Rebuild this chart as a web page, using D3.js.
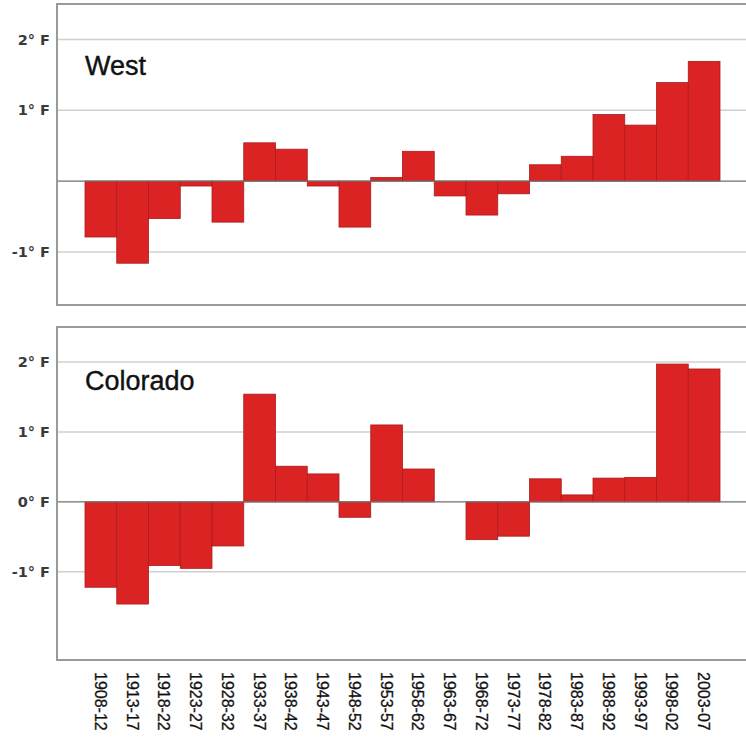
<!DOCTYPE html>
<html>
<head>
<meta charset="utf-8">
<script src="https://cdn.jsdelivr.net/npm/d3@7"></script>
<style>
  html, body { margin: 0; padding: 0; background: #fff; }
  svg { display: block; }
</style>
</head>
<body>
<svg id="chart" width="746" height="738"></svg>
<script>
const periods = ["1908-12","1913-17","1918-22","1923-27","1928-32","1933-37","1938-42","1943-47","1948-52","1953-57","1958-62","1963-67","1968-72","1973-77","1978-82","1983-87","1988-92","1993-97","1998-02","2003-07"];
const westValues = [-0.79,-1.16,-0.53,-0.07,-0.58,0.54,0.45,-0.07,-0.65,0.05,0.42,-0.21,-0.48,-0.18,0.23,0.35,0.94,0.79,1.39,1.69];
const coloradoValues = [-1.22,-1.46,-0.91,-0.95,-0.63,1.54,0.51,0.40,-0.22,1.10,0.47,0.0,-0.54,-0.49,0.33,0.10,0.34,0.35,1.97,1.90];
const westTicks = [-1, 1, 2];
const westTickLabels = ["-1° F", "1° F", "2° F"];
const coloradoTicks = [-1, 0, 1, 2];
const coloradoTickLabels = ["-1° F", "0° F", "1° F", "2° F"];

const svg = d3.select("#chart");
const frameLeft = 57, frameRight = 760;
const x = d3.scaleBand().domain(periods).range([85, 720]).padding(0);

const panels = [
  { name: "West", values: westValues, ticks: westTicks, labels: westTickLabels, domain: [-1.75, 2.5], range: [305, 4] },
  { name: "Colorado", values: coloradoValues, ticks: coloradoTicks, labels: coloradoTickLabels, domain: [-2.26, 2.5], range: [660, 327] }
];

panels.forEach(p => {
  const y = d3.scaleLinear().domain(p.domain).range(p.range);
  const g = svg.append("g");
  g.append("rect")
    .attr("x", frameLeft).attr("y", p.range[1])
    .attr("width", frameRight - frameLeft).attr("height", p.range[0] - p.range[1])
    .attr("fill", "#fff").attr("stroke", "#9a9a9a").attr("stroke-width", 2);
  const axis = d3.axisLeft(y).tickValues(p.ticks).tickSize(0).tickPadding(7)
    .tickFormat((d, i) => p.labels[i]);
  const ax = g.append("g").attr("transform", `translate(${frameLeft},0)`).call(axis);
  ax.select(".domain").remove();
  ax.selectAll("text")
    .attr("font-family", "'DejaVu Sans', sans-serif")
    .attr("font-weight", "bold").attr("font-size", 14.5)
    .attr("fill", "#3a3a3a");
  g.selectAll(".grid").data(p.ticks.filter(t => t !== 0)).join("line")
    .attr("x1", frameLeft + 1).attr("x2", frameRight)
    .attr("y1", d => y(d)).attr("y2", d => y(d))
    .attr("stroke", "#d0d0d0").attr("stroke-width", 1.5);
  g.selectAll(".bar").data(p.values).join("rect")
    .attr("x", (d, i) => x(periods[i]))
    .attr("width", x.bandwidth())
    .attr("y", d => y(Math.max(0, d)))
    .attr("height", d => Math.abs(y(d) - y(0)))
    .attr("fill", "#dc2323").attr("stroke", "#a71c1c").attr("stroke-width", 0.8);
  g.append("line")
    .attr("x1", frameLeft + 1).attr("x2", frameRight)
    .attr("y1", y(0)).attr("y2", y(0))
    .attr("stroke", "#707070").attr("stroke-width", 1.2);
  g.append("text").text(p.name)
    .attr("x", 85).attr("y", p.name === "West" ? 75 : 390)
    .attr("font-family", "'Liberation Sans', Arial, sans-serif")
    .attr("font-size", 27).attr("fill", "#111")
    .attr("stroke", "#111").attr("stroke-width", 0.4);
});

svg.append("g").selectAll("text").data(periods).join("text")
  .text(d => d)
  .attr("transform", d => `translate(${x(d) + x.bandwidth() / 2 - 6},672) rotate(90)`)
  .attr("font-family", "'Liberation Sans', Arial, sans-serif")
  .attr("font-size", 16).attr("fill", "#111")
  .attr("stroke", "#111").attr("stroke-width", 0.3)
  .attr("text-anchor", "start");
</script>
</body>
</html>
